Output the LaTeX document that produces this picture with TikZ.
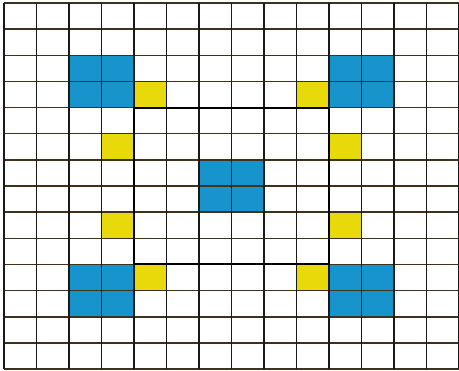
\documentclass[tikz,border=0pt]{standalone}
\definecolor{cellblue}{RGB}{24,148,204}
\definecolor{cellyellow}{RGB}{232,218,10}
\definecolor{vgrid}{RGB}{25,25,25}
\definecolor{hgrid}{RGB}{60,50,30}
\tikzset{
  vline/.style={draw=vgrid,line width=1.6pt},
  hline/.style={draw=hgrid,line width=1.5pt},
  frameline/.style={draw=black,line width=2pt},
}
\begin{document}
\begin{tikzpicture}[x=1pt,y=-1pt]
\fill[white] (0,0) rectangle (459,371);
\useasboundingbox (0,0) rectangle (459,371);
\def\cw{32.5}
\def\ch{26.15}
\foreach \c/\r in {2/2,3/2,2/3,3/3,10/2,11/2,10/3,11/3,6/6,7/6,6/7,7/7,2/10,3/10,2/11,3/11,10/10,11/10,10/11,11/11}
  \fill[cellblue] (4+\cw*\c,3+\ch*\r) rectangle ++(\cw,\ch);
\foreach \c/\r in {4/3,9/3,3/5,10/5,3/8,10/8,4/10,9/10}
  \fill[cellyellow] (4+\cw*\c,3+\ch*\r) rectangle ++(\cw,\ch);
\foreach \i in {0,...,14}
  \draw[hline] (4,3+\ch*\i) -- (459,3+\ch*\i);
\foreach \i in {0,...,14}
  \draw[vline] (4+\cw*\i,3) -- (4+\cw*\i,3+\ch*14);
\draw[frameline] (4+\cw*4,3+\ch*4) rectangle (4+\cw*10,3+\ch*10);
\end{tikzpicture}
\end{document}
